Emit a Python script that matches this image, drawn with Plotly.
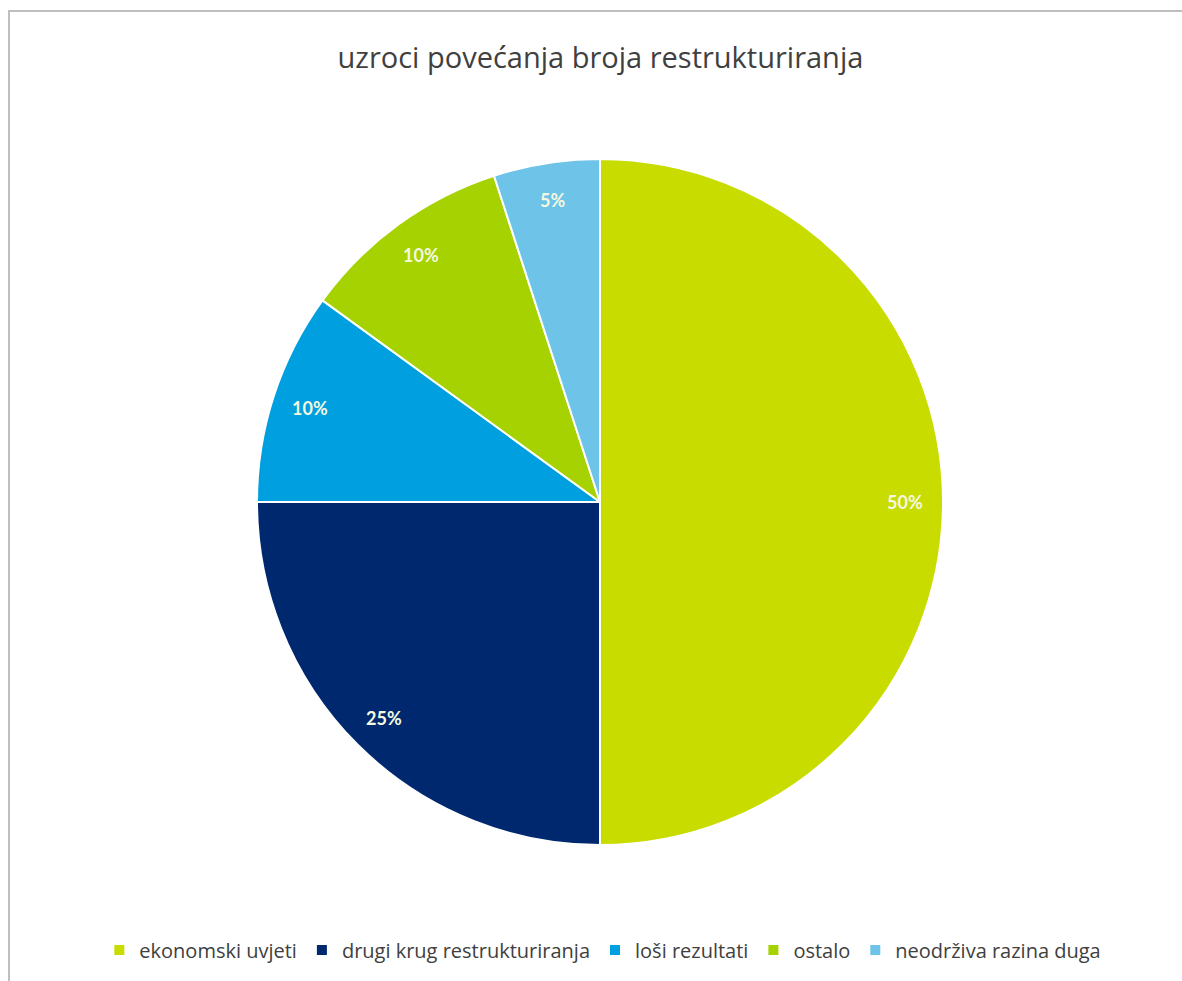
import math
import plotly.graph_objects as go

categories = ["ekonomski uvjeti", "drugi krug restrukturiranja", "loši rezultati", "ostalo", "neodrživa razina duga"]
values = [50, 25, 10, 10, 5]
colors = ["#C8DC00", "#00286E", "#009FDF", "#A5D200", "#6DC3E8"]
title_text = "uzroci povećanja broja restrukturiranja"

W, H = 1182, 981
# pie box in pixels
left, right, top, bottom = 257, 943, 159, 845
dom_x = [left / W, right / W]
dom_y = [(H - bottom) / H, (H - top) / H]

fig = go.Figure()
fig.add_trace(go.Pie(
    labels=categories,
    values=values,
    sort=False,
    direction="clockwise",
    rotation=0,
    marker=dict(colors=colors, line=dict(color="white", width=2)),
    textinfo="none",
    hoverinfo="label+percent",
    domain=dict(x=dom_x, y=dom_y),
))

# percentage labels placed along each slice's mid-angle
cx = (left + right) / 2
cy = (top + bottom) / 2
R = (right - left) / 2
total = sum(values)
cum = 0
annotations = []
for v in values:
    mid = (cum + v / 2) / total
    cum += v
    ang = math.radians(90 - 360 * mid)
    r = 0.89 * R
    px = cx + r * math.cos(ang)
    py = cy - r * math.sin(ang)
    annotations.append(dict(
        x=px / W, y=(H - py) / H, xref="paper", yref="paper",
        text=f"{round(100 * v / total)}%", showarrow=False,
        font=dict(family="Lato", size=18, color="#F4F8E0", weight="bold"),
        xanchor="center", yanchor="middle",
    ))

fig.update_layout(
    width=W, height=H,
    margin=dict(l=0, r=0, t=0, b=0),
    paper_bgcolor="white",
    plot_bgcolor="white",
    title=dict(text=title_text, x=0.508, xanchor="center", y=(H - 58) / H, yanchor="middle",
               font=dict(family="Open Sans", size=29, color="#404040")),
    showlegend=True,
    legend=dict(orientation="h", x=0.51, xanchor="center", y=(H - 950) / H, yanchor="middle",
                font=dict(family="Open Sans", size=20, color="#404040"),
                tracegroupgap=0),
    annotations=annotations,
    shapes=[dict(type="rect", xref="paper", yref="paper",
                 x0=9 / W, x1=1.05, y0=-0.05, y1=(H - 11) / H,
                 line=dict(color="#BFBFBF", width=2), fillcolor="rgba(0,0,0,0)", layer="below")],
)

fig.write_html("out.html", config={"displayModeBar": False},
               post_script="document.body.style.margin='0px';document.body.style.overflow='hidden';")
